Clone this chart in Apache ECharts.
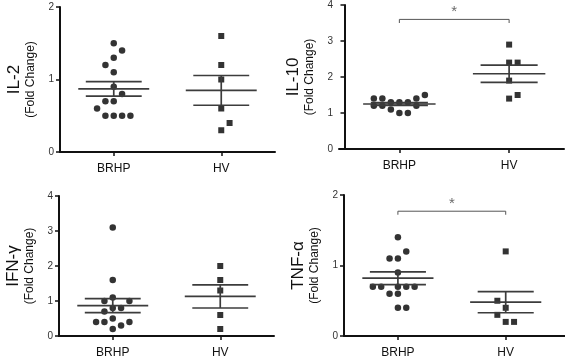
<!DOCTYPE html>
<html>
<head>
<meta charset="utf-8">
<script src="https://cdn.jsdelivr.net/npm/echarts@6/dist/echarts.min.js"></script>
<style>
html,body{margin:0;padding:0;background:#fff;}
#chart{width:565px;height:359px;}
</style>
</head>
<body>
<div id="chart"></div>
<script>
// ---------- DATA ----------
const categories = ['BRHP', 'HV'];
const catPos = [1, 3];               // x value of each category on the hidden value axis

const panelTitles = ['IL-2', 'IL-10', 'IFN-γ', 'TNF-α'];
const yMax = [2, 4, 4, 2];
const yTicks = [[0, 1, 2], [0, 1, 2, 3, 4], [0, 1, 2, 3, 4], [0, 1, 2]];

// IL-2
const il2Brhp = [1.5, 1.4, 1.3, 1.2, 1.1, 0.9, 0.8, 0.7, 0.7, 0.6, 0.5, 0.5, 0.5, 0.5];
const il2BrhpCol = [0, 1, 0, -1, 0, 0, 1, -1, 0, -2, -1, 0, 1, 2];
const il2Hv = [1.6, 1.2, 1.0, 0.6, 0.4, 0.3];
const il2HvCol = [0, 0, 0, 0, 1, 0];
const il2Mean = [0.87, 0.85];
const il2Sem = [0.10, 0.205];

// IL-10
const il10Brhp = [1.5, 1.4, 1.4, 1.4, 1.3, 1.3, 1.3, 1.2, 1.2, 1.2, 1.1, 1.0, 1.0];
const il10BrhpCol = [3, -3, -2, 2, -1, 0, 1, -3, -2, 2, -1, 0, 1];
const il10Hv = [2.9, 2.4, 2.4, 1.9, 1.5, 1.4];
const il10HvCol = [0, 0, 1, 0, 1, 0];
const il10Mean = [1.25, 2.09];
const il10Sem = [0.04, 0.24];

// IFN-gamma
const ifnBrhp = [3.1, 1.6, 1.1, 1.0, 1.0, 0.8, 0.8, 0.7, 0.5, 0.4, 0.4, 0.4, 0.3, 0.2];
const ifnBrhpCol = [0, 0, 0, -1, 2, 0, 1, -1, 0, -2, -1, 2, 1, 0];
const ifnHv = [2.0, 1.6, 1.3, 0.6, 0.2];
const ifnHvCol = [0, 0, 0, 0, 0];
const ifnMean = [0.87, 1.13];
const ifnSem = [0.20, 0.33];

// TNF-alpha
const tnfBrhp = [1.4, 1.2, 1.1, 1.1, 0.9, 0.7, 0.7, 0.7, 0.7, 0.7, 0.6, 0.6, 0.4, 0.4];
const tnfBrhpCol = [0, 1, -1, 0, 0, -3, -2, 0, 1, 2, -1, 0, 0, 1];
const tnfHv = [1.2, 0.5, 0.4, 0.3, 0.2, 0.2];
const tnfHvCol = [0, -1, 0, -1, 0, 1];
const tnfMean = [0.82, 0.48];
const tnfSem = [0.09, 0.15];

// significance brackets (panel index -> bracket height)
const sigPanels = [1, 3];
const sigHeight = [3.6, 1.77];
const sigText = ['*', '*'];

// ---------- CHART ----------
const FONT = '"Liberation Sans", Arial, Helvetica, sans-serif';
const INK = '#111';
const STEP = 0.155;   // horizontal spacing of jittered points

const panels = [
  { brhp: il2Brhp, bc: il2BrhpCol, hv: il2Hv, hc: il2HvCol, mean: il2Mean, sem: il2Sem },
  { brhp: il10Brhp, bc: il10BrhpCol, hv: il10Hv, hc: il10HvCol, mean: il10Mean, sem: il10Sem },
  { brhp: ifnBrhp, bc: ifnBrhpCol, hv: ifnHv, hc: ifnHvCol, mean: ifnMean, sem: ifnSem },
  { brhp: tnfBrhp, bc: tnfBrhpCol, hv: tnfHv, hc: tnfHvCol, mean: tnfMean, sem: tnfSem }
];

const grids = [
  { left: 60, top: 7, width: 215, height: 145 },
  { left: 339, top: 5, width: 225, height: 144 },
  { left: 59, top: 196, width: 215, height: 141 },
  { left: 344, top: 195, width: 224, height: 146 }
];
const xRange = [[0, 4], [-0.1, 4], [0, 4], [0, 4.1]];

const xAxis = grids.map((g, i) => ({
  type: 'value', gridIndex: i, min: xRange[i][0], max: xRange[i][1],
  axisLine: { show: true, onZero: false, lineStyle: { color: INK, width: 2 } },
  axisTick: { show: true, customValues: catPos, length: 4, lineStyle: { color: INK, width: 1.5 } },
  axisLabel: {
    show: true, customValues: catPos, margin: 11,
    formatter: v => categories[catPos.indexOf(v)] || '',
    fontFamily: FONT, fontSize: 12, color: INK
  },
  splitLine: { show: false }
}));

const yAxis = grids.map((g, i) => ({
  type: 'value', gridIndex: i, min: 0, max: yMax[i], interval: 1,
  axisLine: { show: true, lineStyle: { color: INK, width: 2 } },
  axisTick: { show: true, length: 4, lineStyle: { color: INK, width: 1.5 } },
  axisLabel: { fontFamily: FONT, fontSize: 10, color: '#333', margin: 6 },
  splitLine: { show: false },
  name: '{a|' + panelTitles[i] + '}\n{b|(Fold Change)}',
  nameLocation: 'middle', nameRotate: 90, nameGap: 22,
  nameTextStyle: {
    fontFamily: FONT, color: INK, align: 'center',
    rich: {
      a: { fontFamily: FONT, fontSize: 17, lineHeight: 19, color: INK },
      b: { fontFamily: FONT, fontSize: 12, lineHeight: 14, color: INK }
    }
  }
}));

const series = [];
panels.forEach((p, i) => {
  series.push({
    type: 'scatter', xAxisIndex: i, yAxisIndex: i, symbol: 'circle', symbolSize: 6.5,
    itemStyle: { color: '#000' }, silent: true, z: 2,
    data: p.brhp.map((v, k) => [catPos[0] + p.bc[k] * STEP, v])
  });
  series.push({
    type: 'scatter', xAxisIndex: i, yAxisIndex: i, symbol: 'rect', symbolSize: 6,
    itemStyle: { color: '#000' }, silent: true, z: 2,
    data: p.hv.map((v, k) => [catPos[1] + p.hc[k] * STEP, v])
  });
  series.push({
    type: 'custom', xAxisIndex: i, yAxisIndex: i, silent: true, z: 3,
    data: catPos.map((c, k) => [c, p.mean[k], p.sem[k]]),
    renderItem: (params, api) => {
      const x = api.value(0), m = api.value(1), s = api.value(2);
      const st = { stroke: '#3c3c3c', lineWidth: 1.7 };
      const seg = (x1, y1, x2, y2) => {
        const a = api.coord([x1, y1]), b = api.coord([x2, y2]);
        return { type: 'line', shape: { x1: a[0], y1: a[1], x2: b[0], y2: b[1] }, style: st };
      };
      return { type: 'group', children: [
        seg(x - 0.66, m, x + 0.66, m),
        seg(x - 0.52, m + s, x + 0.52, m + s),
        seg(x - 0.52, m - s, x + 0.52, m - s),
        seg(x, m - s, x, m + s)
      ] };
    }
  });
});

sigPanels.forEach((pi, k) => {
  const h = sigHeight[k];
  const drop = yMax[pi] * 0.025;
  series.push({
    type: 'line', xAxisIndex: pi, yAxisIndex: pi, silent: true, symbol: 'none',
    lineStyle: { color: '#555', width: 1 },
    data: [[catPos[0], h - drop], [catPos[0], h], [catPos[1], h], [catPos[1], h - drop]]
  });
  series.push({
    type: 'scatter', xAxisIndex: pi, yAxisIndex: pi, silent: true, symbolSize: 0,
    data: [[(catPos[0] + catPos[1]) / 2, h]],
    label: { show: true, formatter: sigText[k], position: 'top', distance: 0,
             fontFamily: FONT, fontSize: 15, color: '#444' }
  });
});

const chart = echarts.init(document.getElementById('chart'), null, { renderer: 'canvas' });
chart.setOption({
  animation: false,
  backgroundColor: '#fff',
  grid: grids,
  xAxis: xAxis,
  yAxis: yAxis,
  series: series
});
</script>
</body>
</html>
